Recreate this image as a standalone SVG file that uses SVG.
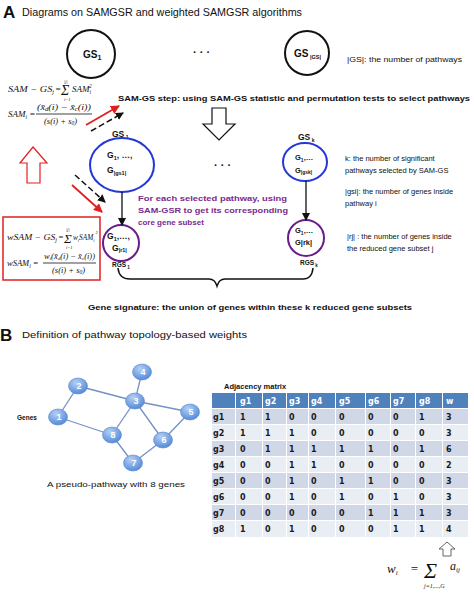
<svg xmlns="http://www.w3.org/2000/svg" width="474" height="594" viewBox="0 0 474 594">
<defs>
<style>
.t{font-family:"Liberation Sans",Arial,sans-serif;fill:#111}
.b{font-weight:bold}
.m{font-family:"Liberation Serif","Times New Roman",serif;font-style:italic;fill:#111}
.pur{fill:#7a2a8c;font-weight:bold;font-family:"Liberation Sans",Arial,sans-serif}
.note{font-family:"Liberation Sans",Arial,sans-serif;font-size:7.5px;fill:#111}
.gn{fill:url(#ng);stroke:#5a86c8;stroke-width:0.6}
.gl{font-family:"Liberation Sans",Arial,sans-serif;font-weight:bold;font-size:9px;fill:#fff;text-anchor:middle}
.edge{stroke:#7391c4;stroke-width:1.3;fill:none}
.r1{fill:#d0d8e8}
.r2{fill:#e9edf4}
.tv{font-family:"DejaVu Sans",Verdana,sans-serif;font-weight:bold;font-size:8px;fill:#1a1a1a}
.th{font-family:"DejaVu Sans",Verdana,sans-serif;font-weight:bold;font-size:8px;fill:#fff}
</style>
<radialGradient id="ng" cx="0.4" cy="0.3" r="0.75">
<stop offset="0" stop-color="#b5d0f4"/>
<stop offset="1" stop-color="#4d86d8"/>
</radialGradient>
<marker id="ak" markerWidth="8" markerHeight="8" refX="7" refY="4" orient="auto" markerUnits="userSpaceOnUse">
<path d="M0,0 L8,4 L0,8 Z" fill="#111"/>
</marker>
<marker id="ar" markerWidth="9" markerHeight="9" refX="8" refY="4.5" orient="auto" markerUnits="userSpaceOnUse">
<path d="M0,0 L9,4.5 L0,9 Z" fill="#e02020"/>
</marker>
</defs>
<rect width="474" height="594" fill="#fff"/>

<text class="t b" x="3" y="18" font-size="17">A</text>
<text class="t" x="22" y="16" font-size="10.5" textLength="280" lengthAdjust="spacingAndGlyphs">Diagrams on SAMGSR and weighted SAMGSR algorithms</text>

<g id="gs1">
<circle cx="91" cy="54" r="24" fill="none" stroke="#111" stroke-width="2"/>
<text class="t b" x="83" y="58" font-size="10">GS<tspan font-size="7" dy="2">1</tspan></text>
</g>
<text class="t b" x="193" y="56" font-size="11">· · ·</text>
<g id="gsn">
<circle cx="307" cy="53" r="22" fill="none" stroke="#111" stroke-width="2"/>
<text class="t b" x="294" y="57" font-size="10">GS<tspan font-size="5.5" dy="2"> |GS|</tspan></text>
</g>
<text class="note" x="347" y="62" textLength="115" lengthAdjust="spacingAndGlyphs">|GS|:  the number of pathways</text>

<g id="formula1">
<text class="m" x="8" y="92" font-size="9" textLength="46" lengthAdjust="spacingAndGlyphs">SAM − GS<tspan font-size="5.5" dy="2">j</tspan></text>
<text class="m" x="55" y="92" font-size="9">=</text>
<text class="m" x="61" y="95" font-size="14" font-style="normal">Σ</text>
<text class="m" x="64" y="83" font-size="4.5">|j|</text>
<text class="m" x="64" y="101" font-size="4.5">i=1</text>
<text class="m" x="72" y="92" font-size="9">SAM<tspan font-size="5.5" dy="2">i</tspan><tspan font-size="5.5" dx="-2" dy="-6">2</tspan></text>
<text class="m" x="8" y="117" font-size="9">SAM<tspan font-size="5.5" dy="2">i</tspan><tspan dy="-2"> =</tspan></text>
<text class="m" x="37" y="110" font-size="8.5" textLength="54" lengthAdjust="spacingAndGlyphs">(x̄<tspan font-size="5.5" dy="1">d</tspan><tspan dy="-1">(i) − x̄</tspan><tspan font-size="5.5" dy="1">c</tspan><tspan dy="-1">(i))</tspan></text>
<line x1="36" y1="114" x2="92" y2="114" stroke="#111" stroke-width="0.8"/>
<text class="m" x="44" y="124" font-size="8.5">(s(i) + s<tspan font-size="5.5" dy="1">0</tspan><tspan dy="-1">)</tspan></text>
</g>

<text class="t b" x="118" y="101" font-size="8" textLength="352" lengthAdjust="spacingAndGlyphs">SAM-GS step: using SAM-GS statistic and permutation tests to select pathways</text>

<path d="M212,108 H226 V124 H235 L219,140 L203,124 H212 Z" fill="#fff" stroke="#111" stroke-width="1.2"/>
<path d="M33,147 L47,163 H40 V183 H27 V163 H20 Z" fill="#fff" stroke="#e02020" stroke-width="1.2"/>

<text class="t b" x="214" y="169" font-size="11">· · ·</text>

<g id="gs1sel">
<text class="t b" x="112" y="137" font-size="8.5">GS<tspan font-size="5" dy="1.5"> 1</tspan></text>
<ellipse cx="122" cy="165" rx="32" ry="27" fill="none" stroke="#2438d8" stroke-width="2"/>
<text class="t b" x="107" y="158" font-size="8.5">G<tspan font-size="5.5" dy="2">1</tspan><tspan dy="-2">, …,</tspan></text>
<text class="t b" x="107" y="173" font-size="8.5">G<tspan font-size="5.5" dy="2">|gs1|</tspan></text>
</g>
<g id="rgs1">
<circle cx="121" cy="243" r="18" fill="none" stroke="#6a1b8a" stroke-width="2"/>
<text class="t b" x="107" y="239" font-size="8.5">G<tspan font-size="5.5" dy="2">1</tspan><tspan dy="-2">,…,</tspan></text>
<text class="t b" x="112" y="251" font-size="8.5">G<tspan font-size="5.5" dy="1">|r1|</tspan></text>
<text class="t b" x="112" y="267" font-size="6.5">RGS<tspan font-size="4.5" dy="1.5"> 1</tspan></text>
</g>
<g id="gsk">
<text class="t b" x="298" y="140" font-size="8.5">GS<tspan font-size="5" dy="2"> k</tspan></text>
<ellipse cx="305" cy="162" rx="22" ry="19" fill="none" stroke="#2438d8" stroke-width="2"/>
<text class="t b" x="295" y="160" font-size="7.5">G<tspan font-size="5" dy="2">1</tspan><tspan dy="-2">,…</tspan></text>
<text class="t b" x="295" y="173" font-size="7.5">G<tspan font-size="5" dy="1">|gsk|</tspan></text>
</g>
<g id="rgsk">
<circle cx="306" cy="238" r="18" fill="none" stroke="#6a1b8a" stroke-width="2"/>
<text class="t b" x="295" y="233" font-size="7.5">G<tspan font-size="5" dy="2">1</tspan><tspan dy="-2">,…</tspan></text>
<text class="t b" x="295" y="245" font-size="7.5">G|rk|</text>
<text class="t b" x="300" y="265" font-size="6.5">RGS<tspan font-size="4.5" dy="1.5"> k</tspan></text>
</g>

<text class="pur" x="138" y="201" font-size="8" textLength="149" lengthAdjust="spacingAndGlyphs">For each selected pathway, using</text>
<text class="pur" x="138" y="213" font-size="8" textLength="150" lengthAdjust="spacingAndGlyphs">SAM-GSR to get its corresponding</text>
<text class="pur" x="138" y="225" font-size="8">core gene subset</text>

<text class="note" x="345" y="161">k: the number of significant</text>
<text class="note" x="345" y="173">pathways selected by SAM-GS</text>
<text class="note" x="345" y="194">|gsi|: the number of genes inside</text>
<text class="note" x="345" y="206">pathway i</text>
<text class="note" x="347" y="239">|rj| : the number of genes inside</text>
<text class="note" x="347" y="251">the reduced gene subset j</text>

<g id="formula2">
<rect x="3" y="217" width="97" height="63" fill="#fff" stroke="#e02020" stroke-width="1.5"/>
<text class="m" x="7" y="240" font-size="8.5" textLength="50" lengthAdjust="spacingAndGlyphs">wSAM − GS<tspan font-size="5.5" dy="2">j</tspan></text>
<text class="m" x="58" y="240" font-size="8.5">=</text>
<text class="m" x="64" y="243" font-size="13" font-style="normal">Σ</text>
<text class="m" x="66" y="231" font-size="4.5">|j|</text>
<text class="m" x="66" y="249" font-size="4.5">i=1</text>
<text class="m" x="73" y="240" font-size="8" textLength="21.5" lengthAdjust="spacingAndGlyphs">w<tspan font-size="5" dy="1.5">i</tspan><tspan dy="-1.5">SAM</tspan><tspan font-size="5" dy="1.5">i</tspan></text>
<text class="m" x="95.5" y="234" font-size="4.5">2</text>
<text class="m" x="7" y="266" font-size="8.5">wSAM<tspan font-size="5.5" dy="2">i</tspan><tspan dy="-2"> =</tspan></text>
<text class="m" x="44" y="259" font-size="8" textLength="51" lengthAdjust="spacingAndGlyphs">w<tspan font-size="5" dy="1">i</tspan><tspan dy="-1">(x̄</tspan><tspan font-size="5" dy="1">d</tspan><tspan dy="-1">(i) − x̄</tspan><tspan font-size="5" dy="1">c</tspan><tspan dy="-1">(i))</tspan></text>
<line x1="43" y1="263" x2="96" y2="263" stroke="#111" stroke-width="0.8"/>
<text class="m" x="52" y="273" font-size="8.5">(s(i) + s<tspan font-size="5.5" dy="1">0</tspan><tspan dy="-1">)</tspan></text>
</g>

<g id="connectors">
<line x1="86" y1="125" x2="119" y2="106" stroke="#e02020" stroke-width="1.8" marker-end="url(#ar)"/>
<line x1="91" y1="131" x2="123" y2="113" stroke="#111" stroke-width="1.5" stroke-dasharray="6,3" marker-end="url(#ak)"/>
<line x1="75" y1="175" x2="105" y2="202" stroke="#111" stroke-width="1.5" stroke-dasharray="6,3" marker-end="url(#ak)"/>
<line x1="72" y1="185" x2="102" y2="212" stroke="#e02020" stroke-width="1.8" marker-end="url(#ar)"/>
<line x1="122" y1="192" x2="122" y2="225" stroke="#111" stroke-width="1.3" marker-end="url(#ak)"/>
<line x1="306" y1="181" x2="306" y2="220" stroke="#111" stroke-width="1.3" marker-end="url(#ak)"/>
<path d="M118,268 Q119,279 130,279 H209 Q215,279 217,286 Q219,279 225,279 H303 Q312,279 313,268" fill="none" stroke="#111" stroke-width="1.5"/>
</g>

<text class="t b" x="88" y="310" font-size="8" textLength="324" lengthAdjust="spacingAndGlyphs">Gene signature: the union of genes within these k reduced gene subsets</text>

<text class="t b" x="0" y="341" font-size="17">B</text>
<text class="t" x="22" y="338" font-size="9.5" textLength="225" lengthAdjust="spacingAndGlyphs">Definition of pathway topology-based weights</text>

<g id="graph-edges">
<line class="edge" x1="58" y1="417" x2="78" y2="386"/>
<line class="edge" x1="78" y1="386" x2="135" y2="401"/>
<line class="edge" x1="135" y1="401" x2="142" y2="372"/>
<line class="edge" x1="135" y1="401" x2="190" y2="412"/>
<line class="edge" x1="135" y1="401" x2="112" y2="435"/>
<line class="edge" x1="135" y1="401" x2="163" y2="440"/>
<line class="edge" x1="58" y1="417" x2="112" y2="435"/>
<line class="edge" x1="112" y1="435" x2="133" y2="463"/>
<line class="edge" x1="133" y1="463" x2="163" y2="440"/>
<line class="edge" x1="163" y1="440" x2="190" y2="412"/>
</g>
<g id="g1"><ellipse class="gn" cx="58" cy="417" rx="9.5" ry="8"/><text class="gl" x="59" y="420">1</text></g>
<g id="g2"><ellipse class="gn" cx="78" cy="386" rx="9.5" ry="8"/><text class="gl" x="79" y="389">2</text></g>
<g id="g3"><ellipse class="gn" cx="135" cy="401" rx="9.5" ry="8"/><text class="gl" x="136" y="404">3</text></g>
<g id="g4"><ellipse class="gn" cx="142" cy="372" rx="9.5" ry="8"/><text class="gl" x="143" y="375">4</text></g>
<g id="g5"><ellipse class="gn" cx="190" cy="412" rx="9.5" ry="8"/><text class="gl" x="191" y="415">5</text></g>
<g id="g6"><ellipse class="gn" cx="163" cy="440" rx="9.5" ry="8"/><text class="gl" x="164" y="443">6</text></g>
<g id="g7"><ellipse class="gn" cx="133" cy="463" rx="9.5" ry="8"/><text class="gl" x="134" y="466">7</text></g>
<g id="g8"><ellipse class="gn" cx="112" cy="435" rx="9.5" ry="8"/><text class="gl" x="113" y="438">8</text></g>
<text class="t b" x="17" y="420" font-size="6.5">Genes</text>
<text class="t" x="47" y="487" font-size="8" textLength="138" lengthAdjust="spacingAndGlyphs">A pseudo-pathway with 8 genes</text>

<g id="table">
<text class="t b" x="224" y="389" font-size="7.5">Adjacency matrix</text>
<g fill="#4f81bd">
<rect x="212" y="393" width="23" height="15"/><rect x="236" y="393" width="26" height="15"/><rect x="263" y="393" width="23" height="15"/><rect x="287" y="393" width="21" height="15"/><rect x="309" y="393" width="26" height="15"/><rect x="336" y="393" width="29" height="15"/><rect x="366" y="393" width="24" height="15"/><rect x="391" y="393" width="24" height="15"/><rect x="416" y="393" width="26" height="15"/><rect x="443" y="393" width="25" height="15"/>
</g>
<g class="th">
<text x="240" y="404">g1</text><text x="265" y="404">g2</text><text x="289" y="404">g3</text><text x="311" y="404">g4</text><text x="339" y="404">g5</text><text x="368" y="404">g6</text><text x="393" y="404">g7</text><text x="419" y="404">g8</text><text x="446" y="404">w</text>
</g>
<rect class="r1" x="212" y="409" width="256" height="15"/>
<rect class="r2" x="212" y="425" width="256" height="15"/>
<rect class="r1" x="212" y="441" width="256" height="15"/>
<rect class="r2" x="212" y="457" width="256" height="15"/>
<rect class="r1" x="212" y="473" width="256" height="15"/>
<rect class="r2" x="212" y="489" width="256" height="15"/>
<rect class="r1" x="212" y="505" width="256" height="15"/>
<rect class="r2" x="212" y="521" width="256" height="16"/>
<g stroke="#fff" stroke-width="1">
<line x1="235.5" y1="408" x2="235.5" y2="537"/><line x1="262.5" y1="408" x2="262.5" y2="537"/><line x1="286.5" y1="408" x2="286.5" y2="537"/><line x1="308.5" y1="408" x2="308.5" y2="537"/><line x1="335.5" y1="408" x2="335.5" y2="537"/><line x1="365.5" y1="408" x2="365.5" y2="537"/><line x1="390.5" y1="408" x2="390.5" y2="537"/><line x1="415.5" y1="408" x2="415.5" y2="537"/><line x1="442.5" y1="408" x2="442.5" y2="537"/>
</g>
<g class="tv">
<text x="213" y="420">g1</text><text x="213" y="436">g2</text><text x="213" y="452">g3</text><text x="213" y="468">g4</text><text x="213" y="484">g5</text><text x="213" y="500">g6</text><text x="213" y="516">g7</text><text x="213" y="532">g8</text>
</g>
<g class="tv">
<text y="420"><tspan x="240">1</tspan><tspan x="265">1</tspan><tspan x="289">0</tspan><tspan x="311">0</tspan><tspan x="339">0</tspan><tspan x="368">0</tspan><tspan x="393">0</tspan><tspan x="419">1</tspan><tspan x="446">3</tspan></text>
<text y="436"><tspan x="240">1</tspan><tspan x="265">1</tspan><tspan x="289">1</tspan><tspan x="311">0</tspan><tspan x="339">0</tspan><tspan x="368">0</tspan><tspan x="393">0</tspan><tspan x="419">0</tspan><tspan x="446">3</tspan></text>
<text y="452"><tspan x="240">0</tspan><tspan x="265">1</tspan><tspan x="289">1</tspan><tspan x="311">1</tspan><tspan x="339">1</tspan><tspan x="368">1</tspan><tspan x="393">0</tspan><tspan x="419">1</tspan><tspan x="446">6</tspan></text>
<text y="468"><tspan x="240">0</tspan><tspan x="265">0</tspan><tspan x="289">1</tspan><tspan x="311">1</tspan><tspan x="339">0</tspan><tspan x="368">0</tspan><tspan x="393">0</tspan><tspan x="419">0</tspan><tspan x="446">2</tspan></text>
<text y="484"><tspan x="240">0</tspan><tspan x="265">0</tspan><tspan x="289">1</tspan><tspan x="311">0</tspan><tspan x="339">1</tspan><tspan x="368">1</tspan><tspan x="393">0</tspan><tspan x="419">0</tspan><tspan x="446">3</tspan></text>
<text y="500"><tspan x="240">0</tspan><tspan x="265">0</tspan><tspan x="289">1</tspan><tspan x="311">0</tspan><tspan x="339">1</tspan><tspan x="368">0</tspan><tspan x="393">1</tspan><tspan x="419">0</tspan><tspan x="446">3</tspan></text>
<text y="516"><tspan x="240">0</tspan><tspan x="265">0</tspan><tspan x="289">0</tspan><tspan x="311">0</tspan><tspan x="339">0</tspan><tspan x="368">1</tspan><tspan x="393">1</tspan><tspan x="419">1</tspan><tspan x="446">3</tspan></text>
<text y="532"><tspan x="240">1</tspan><tspan x="265">0</tspan><tspan x="289">1</tspan><tspan x="311">0</tspan><tspan x="339">0</tspan><tspan x="368">0</tspan><tspan x="393">1</tspan><tspan x="419">1</tspan><tspan x="446">4</tspan></text>
</g>
</g>

<path d="M447,542 L455,549 H451 V556 H443 V549 H439 Z" fill="#fff" stroke="#555" stroke-width="0.9"/>
<g id="formula3">
<text class="m" x="387" y="573" font-size="13">w<tspan font-size="7" dy="2">i</tspan></text>
<text class="m" x="410" y="573" font-size="13" font-style="normal">=</text>
<text class="m" x="424" y="578" font-size="22" font-style="normal">Σ</text>
<text class="m" x="424" y="588" font-size="6">j=1,...,G</text>
<text class="m" x="450" y="570" font-size="12">a<tspan font-size="7" dy="2">ij</tspan></text>
</g>
</svg>
